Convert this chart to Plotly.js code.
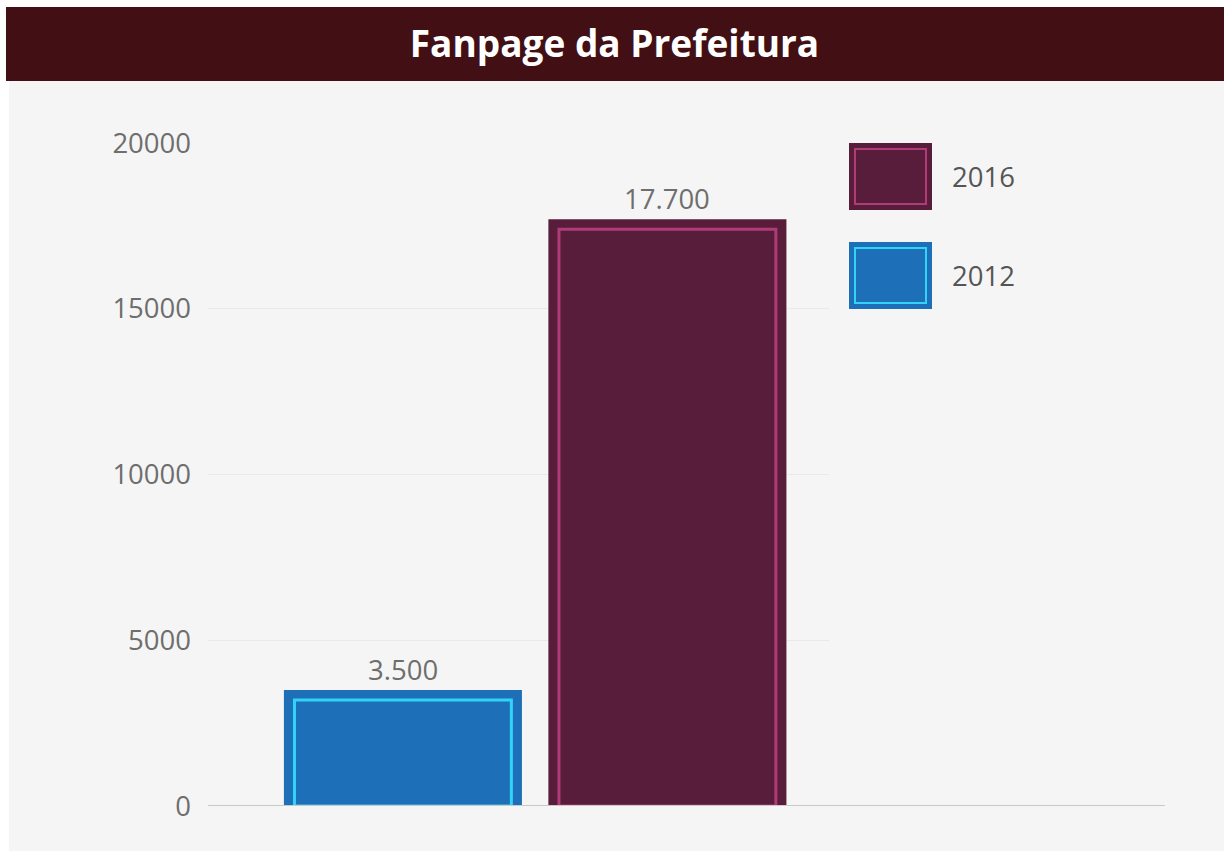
<!DOCTYPE html>
<html>
<head>
<meta charset="utf-8">
<script src="https://cdn.plot.ly/plotly-3.0.1.min.js"></script>
<style>
  html, body { margin: 0; padding: 0; background: #ffffff; }
  #chart { width: 1229px; height: 851px; }
</style>
</head>
<body>
<div id="chart"></div>
<script>
// ---- data ----
const categories = ['2012', '2016'];
const values = [3500, 17700];
const valueLabels = ['3.500', '17.700'];
const legendOrder = ['2016', '2012'];
const yTicks = [0, 5000, 10000, 15000, 20000];

// ---- style ----
const fillColors = { '2012': '#1d70b7', '2016': '#581d3b' };
const lineColors = { '2012': '#33d2f7', '2016': '#b13a78' };
const FONT = '"Open Sans", "Noto Sans", sans-serif';
const textGray = '#6e6e6e';

const W = 1229, H = 851;
const L = 208, R = 829, T = 143, B = 806;
const plotW = R - L, plotH = B - T;
const yMax = 20000;
const insetVal = 10 * yMax / plotH; // inner frame inset (px -> value)

const px2x = p => (p - L) / plotW;
const py2y = p => (B - p) / plotH;

const traces = [];
const annotations = [];
categories.forEach((c, i) => {
  traces.push({
    type: 'bar', x: [c], y: [values[i]], width: 0.9,
    marker: { color: fillColors[c], line: { width: 0 } },
    showlegend: false, hoverinfo: 'x+y'
  });
  traces.push({
    type: 'bar', x: [c], y: [values[i] - insetVal], width: 0.82,
    marker: { color: 'rgba(0,0,0,0)', line: { width: 3, color: lineColors[c] } },
    showlegend: false, hoverinfo: 'skip'
  });
  // category axis: position by category index
  annotations.push({ x: i, y: values[i], xref: 'x', yref: 'y',
    text: valueLabels[i], showarrow: false, xanchor: 'center', yanchor: 'bottom', yshift: 0,
    font: { family: FONT, size: 27.5, color: textGray } });
});

const shapes = [
  // title band
  { type: 'rect', xref: 'paper', yref: 'paper', layer: 'below',
    x0: px2x(6), x1: px2x(1224), y0: py2y(81), y1: py2y(7),
    fillcolor: '#421014', line: { width: 0 } },
  // panel
  { type: 'rect', xref: 'paper', yref: 'paper', layer: 'below',
    x0: px2x(9), x1: px2x(1224), y0: py2y(852), y1: py2y(81),
    fillcolor: '#f5f5f5', line: { width: 0 } },
  // baseline
  { type: 'line', xref: 'paper', yref: 'y', layer: 'above',
    x0: 0, x1: px2x(1165), y0: 0, y1: 0,
    line: { color: '#c9c9c9', width: 2 } }
];

legendOrder.forEach((c, k) => {
  const top = 143 + k * 99, bot = top + 67;
  shapes.push({ type: 'rect', xref: 'paper', yref: 'paper',
    x0: px2x(849), x1: px2x(932), y0: py2y(bot), y1: py2y(top),
    fillcolor: fillColors[c], line: { width: 0 } });
  shapes.push({ type: 'rect', xref: 'paper', yref: 'paper',
    x0: px2x(855), x1: px2x(926), y0: py2y(bot - 6), y1: py2y(top + 6),
    fillcolor: 'rgba(0,0,0,0)', line: { width: 2, color: lineColors[c] } });
  annotations.push({ xref: 'paper', yref: 'paper', x: px2x(950), y: py2y((top + bot) / 2),
    xanchor: 'left', yanchor: 'middle', showarrow: false, text: c,
    font: { family: FONT, size: 27.5, color: '#555555' } });
});

const layout = {
  width: W, height: H,
  margin: { l: L, r: W - R, t: T, b: H - B, pad: 0 },
  paper_bgcolor: '#ffffff', plot_bgcolor: 'rgba(0,0,0,0)',
  barmode: 'overlay',
  title: { text: '<b>Fanpage da Prefeitura</b>', xref: 'container', yref: 'container',
    x: 0.5, xanchor: 'center', y: 1 - 44 / H, yanchor: 'middle',
    font: { family: FONT, size: 37, color: '#ffffff' } },
  xaxis: { type: 'category', range: [-0.737, 1.611], showticklabels: false,
    showgrid: false, zeroline: false, showline: false, ticks: '' },
  yaxis: { range: [0, yMax], tickvals: yTicks, tickformat: 'd',
    showgrid: true, gridcolor: '#e9e9e9', gridwidth: 1, zeroline: false,
    showline: false, ticks: '', ticklabelstandoff: 16,
    tickfont: { family: FONT, size: 27.5, color: textGray } },
  shapes: shapes, annotations: annotations, showlegend: false
};

Plotly.newPlot('chart', traces, layout, { displayModeBar: false, responsive: false });
</script>
</body>
</html>
